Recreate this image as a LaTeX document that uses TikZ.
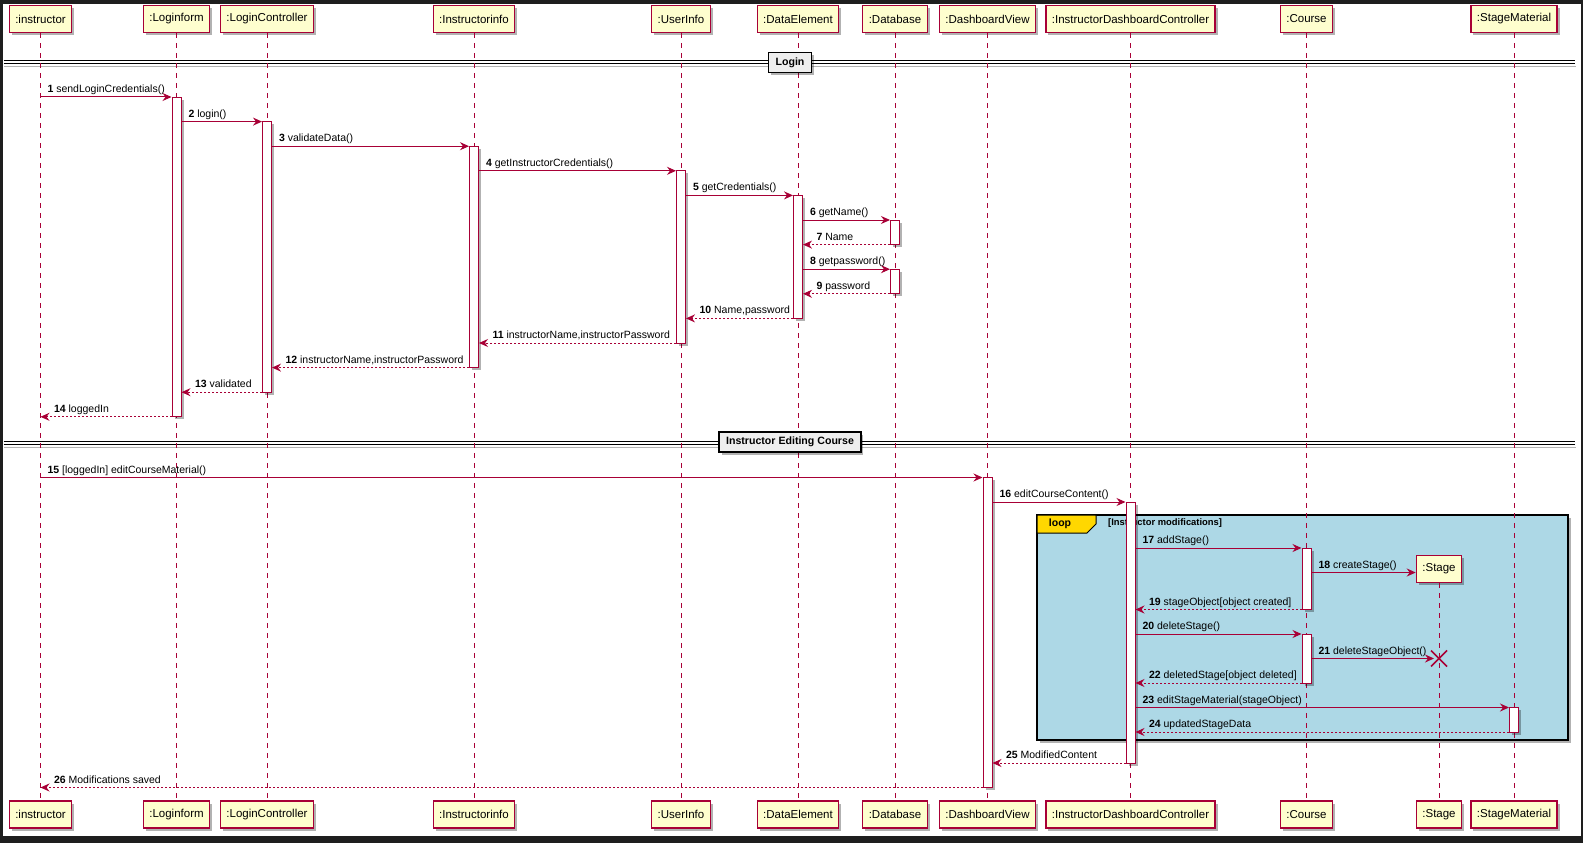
\documentclass[tikz,border=0pt]{standalone}
\usepackage{fontspec}
\setmainfont{Liberation Sans}
\usetikzlibrary{arrows.meta,shadows,fit}
\definecolor{pu}{HTML}{A80036}
\definecolor{pfill}{HTML}{FEFECE}
\definecolor{loopblue}{HTML}{ADD8E6}
\definecolor{loopgold}{HTML}{FFD700}
\definecolor{framedark}{HTML}{1E1E1E}
\definecolor{sepfill}{HTML}{EEEEEE}
\newcommand\fwd[5]{\draw[callarr] (#1 |- 0,#3) -- (#2 |- 0,#3) node[msglbl,pos=0,anchor=base west,xshift=6.5pt,yshift=4.5pt]{\textbf{#4} #5};}
\newcommand\bwd[5]{\draw[retarr] (#1 |- 0,#3) -- (#2 |- 0,#3) node[msglbl,pos=1,anchor=base west,xshift=13pt,yshift=4.5pt]{\textbf{#4} #5};}
\newcommand\activ[4]{\node[actbox, fit={(#2-4.5,#3) (#2+4.5,#4)}] (#1) {};}
\begin{document}
\begin{tikzpicture}[x=1pt,y=-1pt,
  shad/.style={drop shadow={shadow xshift=2.5pt,shadow yshift=-2.5pt,opacity=0.3,fill=black}},
  pbox/.style={draw=pu,fill=pfill,line width=1.3pt,inner xsep=6pt,inner ysep=0pt,minimum height=27pt,font=\fontsize{11.5}{13}\selectfont,shad},
  lifeln/.style={draw=pu,line width=1pt,dash pattern=on 5pt off 5pt},
  actbox/.style={draw=pu,fill=white,line width=1pt,inner sep=0pt,shad},
  callarr/.style={draw=pu,line width=1pt,-{Stealth[length=9pt,width=8pt,inset=3pt]}},
  retarr/.style={callarr,dash pattern=on 2pt off 2pt},
  msglbl/.style={font=\fontsize{10.5}{12}\selectfont,inner sep=0pt,text=black},
  seplbl/.style={draw=black,fill=sepfill,line width=1.4pt,inner xsep=7pt,inner ysep=0pt,minimum height=20pt,font=\bfseries\fontsize{10.6}{12}\selectfont,shad}
]
\useasboundingbox (0,0) rectangle (1583,843);
\fill[framedark] (0,0) rectangle (1583,843);
\fill[white] (3,4) rectangle (1581,836);

% loop box
\fill[black,opacity=0.3] (1040,518) rectangle (1570.5,743);
\draw[black,line width=2pt,fill=loopblue] (1037,515) rectangle (1567.5,740);
\draw[black,line width=1pt,fill=loopgold] (1037,515) -- (1096,515) -- (1096,524) -- (1087,533) -- (1037,533) -- cycle;
\node[font=\bfseries\fontsize{10.5}{12}\selectfont,inner sep=0pt] (loopl) at (1060,524) {loop};
\node[font=\bfseries\fontsize{9.4}{11}\selectfont,inner sep=0pt,anchor=west] (guard) at (1108,523.5) {[Instructor modifications]};

% separators
\foreach \yy in {61,441.5}{
  \draw[black!30,line width=1pt] (4,\yy+5.5) -- (1576,\yy+5.5);
  \draw[black,line width=1pt] (3.5,\yy) -- (1575,\yy);
  \draw[black,line width=1pt] (3.5,\yy+3) -- (1575,\yy+3);
}

% participants
\foreach \n/\x/\t in {Ins/40.5/:instructor, LF/176.5/:Loginform, LC/267/:LoginController, II/474/:Instructorinfo, UI/681/:UserInfo, DE/798/:DataElement, DB/895/:Database, DV/987.5/:DashboardView, IDC/1130.5/:InstructorDashboardController, Co/1306.5/:Course, SM/1514/:StageMaterial}{
  \node[pbox] (p\n T) at (\x,19) {\t};
  \node[pbox] (p\n B) at (\x,814.5) {\t};
}
\node[pbox] (pStT) at (1439,569) {:Stage};
\node[pbox] (pStB) at (1439,814.5) {:Stage};

% lifelines
\foreach \n in {Ins,LF,LC,II,UI,DE,DB,DV,IDC,Co,St,SM}{
  \draw[lifeln] (p\n T.south) -- (p\n B.north);
}

% separator labels
\node[seplbl] (sLogin) at (790,62.5) {Login};
\node[seplbl] (sEdit) at (790,442) {Instructor Editing Course};

% activations
\activ{aLF}{176.5}{97}{416.8}
\activ{aLC}{267}{121.6}{392.2}
\activ{aII}{474}{146.2}{367.6}
\activ{aUI}{681}{170.8}{343}
\activ{aDE}{798}{195.4}{318.4}
\activ{aDBa}{895}{220}{244.6}
\activ{aDBb}{895}{269.2}{293.8}
\activ{aDV}{987.5}{477.5}{787.5}
\activ{aIDC}{1130.5}{502}{763}
\activ{aCoa}{1306.5}{548}{609.5}
\activ{aCob}{1306.5}{634}{683}
\activ{aSM}{1514}{707.5}{732}

% messages
\fwd{pInsT.center}{aLF.west}{97}{1}{sendLoginCredentials()}
\fwd{aLF.east}{aLC.west}{121.6}{2}{login()}
\fwd{aLC.east}{aII.west}{146.2}{3}{validateData()}
\fwd{aII.east}{aUI.west}{170.8}{4}{getInstructorCredentials()}
\fwd{aUI.east}{aDE.west}{195.4}{5}{getCredentials()}
\fwd{aDE.east}{aDBa.west}{220}{6}{getName()}
\bwd{aDBa.west}{aDE.east}{244.6}{7}{Name}
\fwd{aDE.east}{aDBb.west}{269.2}{8}{getpassword()}
\bwd{aDBb.west}{aDE.east}{293.8}{9}{password}
\bwd{aDE.west}{aUI.east}{318.4}{10}{Name,password}
\bwd{aUI.west}{aII.east}{343}{11}{instructorName,instructorPassword}
\bwd{aII.west}{aLC.east}{367.6}{12}{instructorName,instructorPassword}
\bwd{aLC.west}{aLF.east}{392.2}{13}{validated}
\bwd{aLF.west}{pInsT.center}{416.8}{14}{loggedIn}
\fwd{pInsT.center}{aDV.west}{477.5}{15}{[loggedIn] editCourseMaterial()}
\fwd{aDV.east}{aIDC.west}{502}{16}{editCourseContent()}
\fwd{aIDC.east}{aCoa.west}{548}{17}{addStage()}
\fwd{aCoa.east}{pStT.west}{572.5}{18}{createStage()}
\bwd{aCoa.west}{aIDC.east}{609.5}{19}{stageObject[object created]}
\fwd{aIDC.east}{aCob.west}{634}{20}{deleteStage()}
\coordinate (xSt) at (1439,658.5);
\draw[callarr,shorten >=5pt] (aCob.east |- xSt) -- (xSt) node[msglbl,pos=0,anchor=base west,xshift=6.5pt,yshift=4.5pt]{\textbf{21} deleteStageObject()};
\draw[pu,line width=1.5pt] (xSt) ++(-8,-8) -- ++(16,16) (xSt) ++(-8,8) -- ++(16,-16);
\bwd{aCob.west}{aIDC.east}{683}{22}{deletedStage[object deleted]}
\fwd{aIDC.east}{aSM.west}{707.5}{23}{editStageMaterial(stageObject)}
\bwd{aSM.west}{aIDC.east}{732}{24}{updatedStageData}
\bwd{aIDC.west}{aDV.east}{763}{25}{ModifiedContent}
\bwd{aDV.west}{pInsT.center}{787.5}{26}{Modifications saved}
\end{tikzpicture}
\end{document}
